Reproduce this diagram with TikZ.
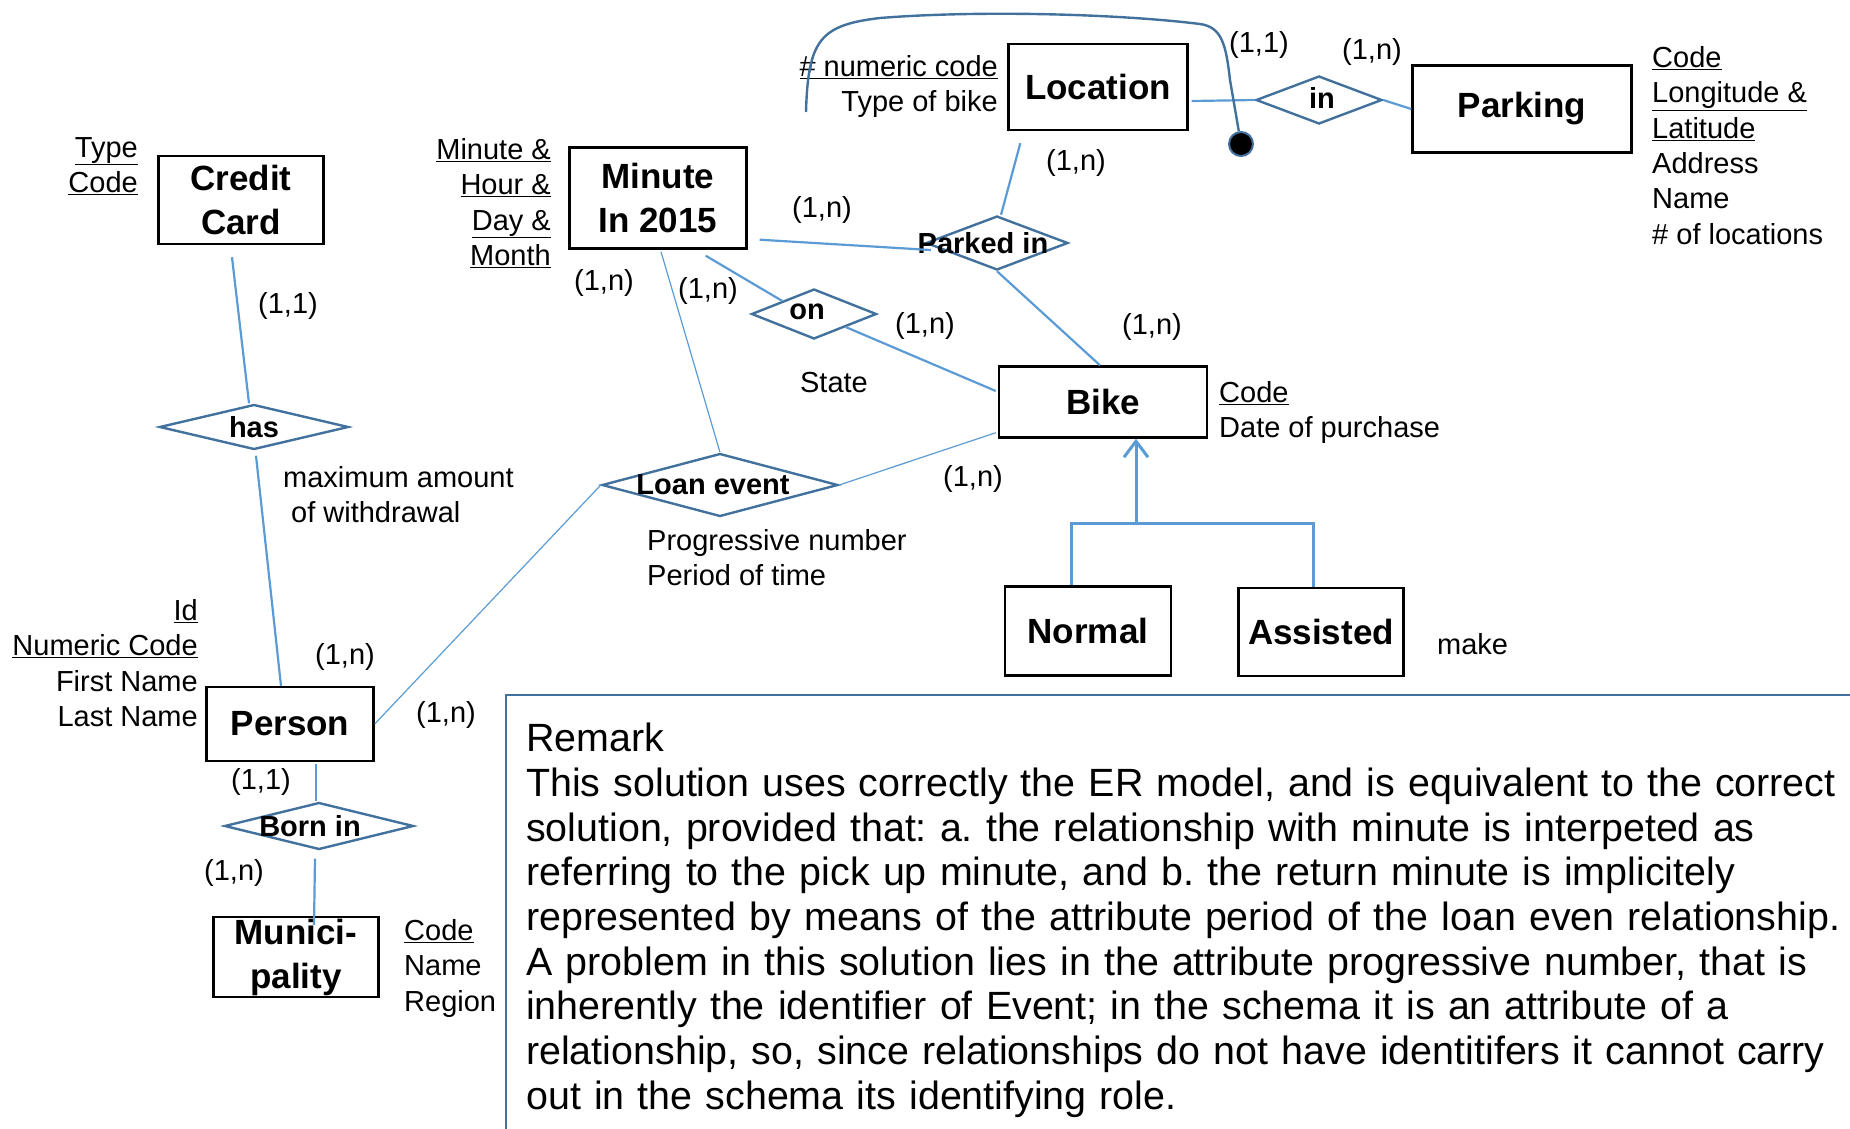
\documentclass[tikz,border=0pt]{standalone}
\usepackage{fontspec}
\setmainfont{Liberation Sans}
\usetikzlibrary{arrows.meta,positioning,shapes.geometric,calc}

\definecolor{linkblue}{RGB}{91,155,213}
\definecolor{relblue}{RGB}{65,113,156}

\newcommand\entfont{\fontsize{35}{44}\selectfont\bfseries}
\newcommand\relfont{\fontsize{29}{34}\selectfont\bfseries}
\newcommand\attrfont{\fontsize{29}{35.4}\selectfont}
\newcommand\cardfont{\fontsize{29}{34}\selectfont}
\newcommand\remfont{\fontsize{39.4}{44.7}\selectfont\frenchspacing}

\begin{document}
\begin{tikzpicture}[
  x=1pt, y=-1pt,
  entity/.style={draw, line width=2.4pt, font=\entfont, align=center, inner sep=0pt},
  rel/.style={diamond, draw=relblue, line width=2.4pt, inner sep=0pt},
  attr/.style={font=\attrfont, inner sep=0pt},
  card/.style={font=\cardfont, inner sep=0pt},
  link/.style={draw=linkblue, line width=2.2pt},
  thinlink/.style={draw=linkblue, line width=1.2pt},
  isa/.style={draw=linkblue, line width=3pt},
  idcurve/.style={draw=relblue, line width=2.4pt},
  remark/.style={draw=relblue, line width=2.4pt, font=\remfont, align=left,
    text width=1400pt, inner xsep=20pt, inner ysep=28pt},
  every label/.style={font=\relfont, inner sep=0pt},
  >={Straight Barb[length=16pt,width=24pt]}
]
\useasboundingbox (0,0) rectangle (1850,1128);

% entities
\node[entity, minimum width=165pt, minimum height=88pt] (cc) at (241,200) {Credit\\Card};
\node[entity, minimum width=177pt, minimum height=101pt] (minute) at (658,198) {Minute\\In 2015};
\node[entity, minimum width=179pt, minimum height=86pt] (loc) at (1098,87) {Location};
\node[entity, minimum width=219pt, minimum height=87pt] (park) at (1522,109) {Parking};
\node[entity, minimum width=208pt, minimum height=71pt] (bike) at (1103,402) {Bike};
\node[entity, minimum width=166pt, minimum height=89pt] (normal) at (1088,631) {Normal};
\node[entity, minimum width=165pt, minimum height=88pt] (assisted) at (1321,632) {Assisted};
\node[entity, minimum width=167pt, minimum height=74pt] (person) at (290,724) {Person};
\node[entity, minimum width=165pt, minimum height=80pt] (muni) at (296,957) {Munici-\\pality};

% relationships
\node[rel, minimum width=189pt, minimum height=45pt, label=center:has] (has) at (254,427) {};
\node[rel, minimum width=189pt, minimum height=47pt, label={[xshift=-9pt]center:Born in}] (born) at (319,826) {};
\node[rel, minimum width=236pt, minimum height=63pt, label={[xshift=-7pt]center:Loan event}] (loan) at (720,485) {};
\node[rel, minimum width=125pt, minimum height=50pt, label={[xshift=-7pt,yshift=2pt]center:on}] (on) at (814,314) {};
\node[rel, minimum width=142pt, minimum height=54pt, label={[xshift=-14pt]center:Parked in}] (parked) at (997,243) {};
\node[rel, minimum width=126pt, minimum height=48pt, label={[xshift=3pt,yshift=2pt]center:in}] (in) at (1319,100) {};

% attributes
\node[attr, anchor=north east, align=right] (ccattr) at (138,137) {\underline{Type}\\\underline{Code}};
\node[attr, anchor=north east, align=right] (minattr) at (551,138)
  {\underline{Minute \&}\\\underline{Hour \&}\\\underline{Day \&}\\\underline{Month}};
\node[attr, anchor=north east, align=right] (locattr) at (998,55) {\underline{\# numeric code}\\Type of bike};
\node[attr, anchor=north west, align=left] (parkattr) at (1652,46)
  {\underline{Code}\\\underline{Longitude \&}\\\underline{Latitude}\\Address\\Name\\\# of locations};
\node[attr, anchor=north west, align=left] (bikeattr) at (1219,381) {\underline{Code}\\Date of purchase};
\node[attr] (state) at (834,383) {State};
\node[attr, anchor=north west, align=left] (hasattr) at (283,466) {maximum amount\\\hspace*{8pt}of withdrawal};
\node[attr, anchor=north west, align=left] (loanattr) at (647,529) {Progressive number\\Period of time};
\node[attr, anchor=north east, align=right] (personattr) at (198,599)
  {\underline{Id}\\\underline{Numeric Code}\\First Name\\Last Name};
\node[attr, anchor=north west, align=left] (muniattr) at (404,919) {\underline{Code}\\Name\\Region};
\node[attr, anchor=west] (make) at (1437,644) {make};

% cardinalities
\node[card] (kcc) at (288,306) {(1,1)};
\node[card] (kpersonhas) at (345,657) {(1,n)};
\node[card] (kpersonloan) at (446,715) {(1,n)};
\node[card] (kpersonborn) at (261,782) {(1,1)};
\node[card] (kmuni) at (234,873) {(1,n)};
\node[card] (kminloan) at (604,283) {(1,n)};
\node[card] (kminon) at (708,291) {(1,n)};
\node[card] (kminpark) at (822,210) {(1,n)};
\node[card] (kbikeon) at (925,326) {(1,n)};
\node[card] (kbikepark) at (1152,327) {(1,n)};
\node[card] (kbikeloan) at (973,479) {(1,n)};
\node[card] (klocpark) at (1076,163) {(1,n)};
\node[card] (klocin) at (1259,45) {(1,1)};
\node[card] (kparkin) at (1372,52) {(1,n)};

% connectors
\draw[link] ($(cc.south)+(-9,12)$) -- ($(has.north)+(-5,0)$);
\draw[link] ($(has.south)+(2,5)$) -- ($(person.north)+(-9,0)$);
\draw[link] ($(person.south)+(26,2)$) -- ($(born.north)+(-3,0)$);
\draw[link] ($(born.south)+(-4,8)$) -- ($(muni.north)+(18,9)$);
\draw[thinlink] (person.east) -- (loan.west);
\draw[thinlink] (loan.north) -- ($(minute.south)+(3,2)$);
\draw[thinlink] (loan.east) -- ($(bike.south west)+(-2,-6)$);
\draw[link] ($(minute.south east)+(-42,6)$) -- (on.north west);
\draw[link] (on.south east) -- ($(bike.west)+(-2,-11)$);
\draw[link] ($(minute.south east)+(12,-10)$) -- ($(parked.west)+(6,7)$);
\draw[link] ($(parked.north)+(4,0)$) -- ($(loc.south west)+(13,12)$);
\draw[link] (parked.south) -- ($(bike.north)+(-3,0)$);
\draw[link] ($(loc.east)+(3,14)$) -- (in.west);
\draw[link] (in.east) -- (park.west);

% external identifier of location
\node[circle, fill=black, draw=relblue, line width=2pt, minimum size=24pt, inner sep=0pt] (iddot) at (1241,144) {};
\coordinate (idstart) at (806,112);
\draw[idcurve] (idstart) .. controls (808,40) and (820,25) .. (880,18)
  .. controls (980,10) and (1120,14) .. (1200,24)
  .. controls (1222,27) and (1226,45) .. (1230,80) -- (iddot);

% generalization
\coordinate (gen) at (1136,523);
\draw[isa, ->] (gen) -- (gen |- bike.south);
\draw[isa] ($(normal.north)+(-17,0)$) |- (gen) -| ($(assisted.north)+(-8,0)$);

% remark box
\node[remark, anchor=north west] (rem) at (505,694) {Remark\\
This solution uses correctly the ER model, and is equivalent to the correct\\
solution, provided that: a. the relationship with minute is interpeted as\\
referring to the pick up minute, and b. the return minute is implicitely\\
represented by means of the attribute period of the loan even relationship.\\
A problem in this solution lies in the attribute progressive number, that is\\
inherently the identifier of Event; in the schema it is an attribute of a\\
relationship, so, since relationships do not have identitifers it cannot carry\\
out in the schema its identifying role.};
\end{tikzpicture}
\end{document}
